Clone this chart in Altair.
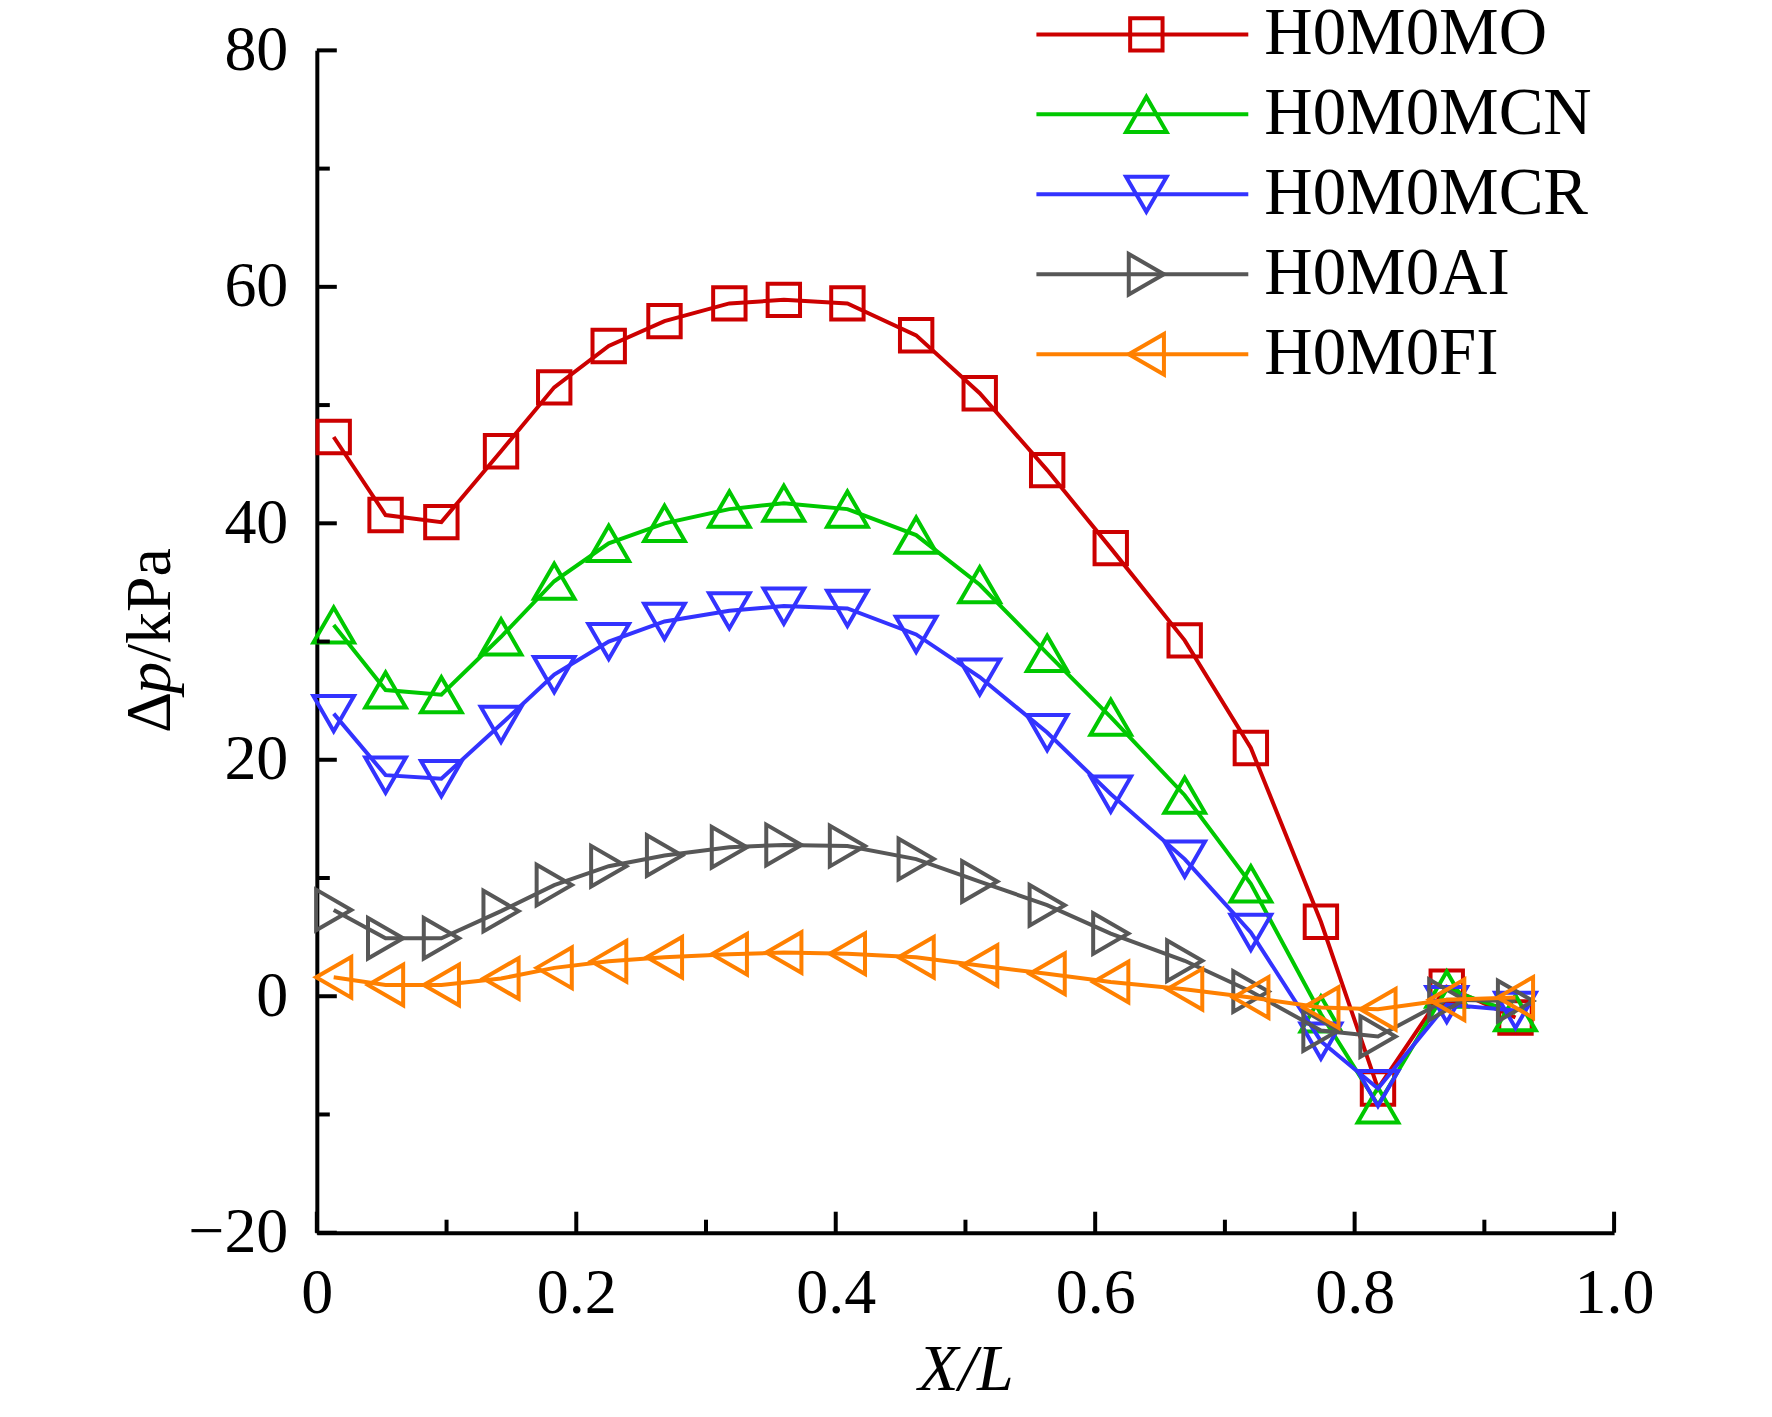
import altair as alt
import pandas as pd

# ---------------- data ----------------
series_names = ["H0M0MO", "H0M0MCN", "H0M0MCR", "H0M0AI", "H0M0FI"]
series_colors = ["#CC0000", "#00C800", "#3333FF", "#575757", "#FF8000"]
series_shapes = ["square", "triangle-up", "triangle-down", "triangle-right", "triangle-left"]

x_pos = [0.013, 0.053, 0.096, 0.142, 0.183, 0.225, 0.268, 0.318, 0.360, 0.409,
         0.462, 0.511, 0.563, 0.612, 0.669, 0.720, 0.774, 0.818, 0.871, 0.924]

y_mo = [47.3, 40.7, 40.1, 46.1, 51.5, 55.0, 57.1, 58.6, 58.9, 58.6,
        55.9, 51.0, 44.5, 37.9, 30.1, 21.0, 6.3, -7.8, 0.8, -1.8]
y_mcn = [31.4, 25.9, 25.5, 30.4, 35.1, 38.3, 40.0, 41.2, 41.7, 41.2,
         39.0, 34.8, 29.0, 23.6, 17.0, 9.5, -1.5, -9.2, 0.6, -1.4]
y_mcr = [23.9, 18.7, 18.4, 23.0, 27.2, 30.0, 31.7, 32.6, 33.0, 32.8,
         30.6, 27.0, 22.3, 17.1, 11.6, 5.4, -3.8, -7.8, -0.7, -1.2]
y_ai = [7.3, 4.9, 4.9, 7.2, 9.4, 11.0, 11.9, 12.6, 12.8, 12.7,
        11.6, 9.7, 7.7, 5.3, 3.0, 0.4, -2.9, -3.4, -0.3, -0.4]
y_fi = [1.6, 0.95, 0.95, 1.5, 2.4, 2.95, 3.3, 3.55, 3.7, 3.6,
        3.3, 2.6, 1.9, 1.2, 0.6, -0.1, -0.95, -1.1, -0.3, -0.1]
series_values = [y_mo, y_mcn, y_mcr, y_ai, y_fi]

x_major = [0, 0.2, 0.4, 0.6, 0.8, 1.0]
x_minor = [0.1, 0.3, 0.5, 0.7, 0.9]
y_major = [-20, 0, 20, 40, 60, 80]
y_minor = [-10, 10, 30, 50, 70]

# y-axis title pieces (Δ, italic p, /kPa)
y_title_parts = ["Δ", "p", "/kPa"]
y_title_styles = ["normal", "italic", "normal"]

# ---------------- layout / style ----------------
W, H = 1298, 1183
FONT = "Liberation Serif"

color_scale = alt.Scale(domain=series_names, range=series_colors)
shape_scale = alt.Scale(domain=series_names, range=series_shapes)
xs = alt.Scale(domain=[0, 1], nice=False, zero=False)
ys = alt.Scale(domain=[-20, 80], nice=False, zero=False)

x_axis = alt.Axis(
    title="X/L", values=x_major, grid=False, ticks=False, tickSize=0,
    domainColor="black", domainWidth=4,
    labelFont=FONT, labelFontSize=64, labelColor="black",
    labelBaseline="alphabetic", labelPadding=80, labelFlush=False,
    labelOverlap=False,
    labelExpr="datum.value == 0 ? '0' : format(datum.value, '.1f')",
    titleFont=FONT, titleFontSize=66, titleFontStyle="italic",
    titleFontWeight="normal", titleColor="black",
    titleX=W / 2, titleY=157, titleBaseline="alphabetic", titleAlign="center",
)
y_axis = alt.Axis(
    title="", values=y_major, grid=False, ticks=False, tickSize=0,
    domainColor="black", domainWidth=4,
    labelFont=FONT, labelFontSize=64, labelColor="black",
    labelPadding=29, labelOverlap=False, labelFlush=False,
)

# ---------------- data layers ----------------
data_layers = []
for name, vals in zip(series_names, series_values):
    df = pd.DataFrame({"x": x_pos, "y": vals, "series": name})
    base = alt.Chart(df).encode(
        x=alt.X("x:Q", scale=xs, axis=x_axis),
        y=alt.Y("y:Q", scale=ys, axis=y_axis),
        color=alt.Color("series:N", scale=color_scale, legend=None),
    )
    line = base.mark_line(strokeWidth=4)
    pts = base.mark_point(filled=False, strokeWidth=4, opacity=1).encode(
        shape=alt.Shape("series:N", scale=shape_scale, legend=None),
        size=alt.condition("datum.series == 'H0M0MO'", alt.value(1050), alt.value(1650)),
    )
    data_layers += [line, pts]

# ---------------- inward tick marks ----------------
def xticks(vals, length):
    return alt.Chart(pd.DataFrame({"x": vals})).mark_rule(color="black", strokeWidth=4).encode(
        x=alt.X("x:Q", scale=xs, axis=x_axis),
        y=alt.value(H), y2=alt.value(H - length),
    )

def yticks(vals, length):
    return alt.Chart(pd.DataFrame({"y": vals})).mark_rule(color="black", strokeWidth=4).encode(
        y=alt.Y("y:Q", scale=ys, axis=y_axis),
        x=alt.value(0), x2=alt.value(length),
    )

tick_layers = [xticks(x_major, 21), xticks(x_minor, 13),
               yticks(y_major, 20), yticks(y_minor, 13)]

# ---------------- y-axis title built from pieces (rotated) ----------------
TFS = 64
piece_widths = [0.613 * TFS, 0.50 * TFS, 1.778 * TFS]
start = H / 2 - 1 + sum(piece_widths) / 2
title_layers = []
offset = 0.0
for txt, sty, wdt in zip(y_title_parts, y_title_styles, piece_widths):
    title_layers.append(
        alt.Chart(pd.DataFrame({"t": [txt]})).mark_text(
            font=FONT, fontSize=TFS, fontStyle=sty, angle=270,
            align="left", baseline="alphabetic", color="black",
        ).encode(text="t:N", x=alt.value(-147), y=alt.value(start - offset))
    )
    offset += wdt

main = alt.layer(*data_layers, *tick_layers, *title_layers)

# ---------------- legend (manual: line + marker + label) ----------------
leg_df = pd.DataFrame({"series": series_names, "row": list(range(len(series_names)))})
leg_y = alt.Y("row:Q", scale=alt.Scale(domain=[0, 4], range=[-16, 304]), axis=None)
leg_base = alt.Chart(leg_df).encode(y=leg_y)
leg_rule = leg_base.mark_rule(strokeWidth=4).encode(
    x=alt.value(720), x2=alt.value(932),
    color=alt.Color("series:N", scale=color_scale, legend=None),
)
leg_pt = leg_base.mark_point(filled=False, strokeWidth=4, opacity=1).encode(
    x=alt.value(830),
    color=alt.Color("series:N", scale=color_scale, legend=None),
    shape=alt.Shape("series:N", scale=shape_scale, legend=None),
    size=alt.condition("datum.series == 'H0M0MO'", alt.value(1050), alt.value(1650)),
)
leg_text = leg_base.mark_text(
    font=FONT, fontSize=67, align="left", baseline="middle", color="black"
).encode(x=alt.value(948), text="series:N")
legend = alt.layer(leg_rule, leg_pt, leg_text)

chart = (
    alt.layer(main, legend)
    .resolve_scale(y="independent")
    .properties(
        width=W, height=H,
        padding={"left": 309, "top": 42, "right": 150, "bottom": 176},
        autosize=alt.AutoSizeParams(type="none"),
        background="white",
    )
    .configure(font=FONT)
    .configure_axis(titleFont=FONT, labelFont=FONT)
    .configure_view(strokeWidth=0)
)

chart.save("out.html", embed_options={"renderer": "svg", "actions": False})
